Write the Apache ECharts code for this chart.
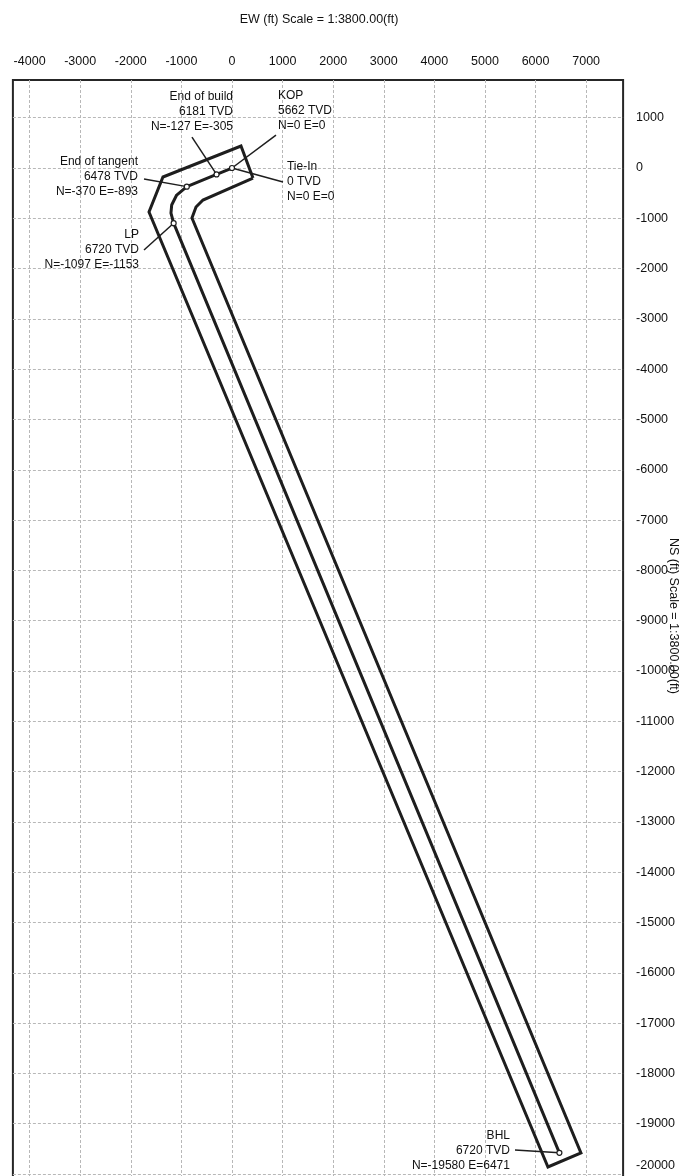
<!DOCTYPE html>
<html>
<head>
<meta charset="utf-8">
<script src="https://cdn.jsdelivr.net/npm/echarts@6/dist/echarts.min.js"></script>
<style>
html,body{margin:0;padding:0;background:#fff;}
#chart{width:681px;height:1176px;}
</style>
</head>
<body>
<div id="chart"></div>
<script>
// ---- tick labels ----
const xTicks = [-4000, -3000, -2000, -1000, 0, 1000, 2000, 3000, 4000, 5000, 6000, 7000];
const yTicks = [1000, 0, -1000, -2000, -3000, -4000, -5000, -6000, -7000, -8000, -9000, -10000,
  -11000, -12000, -13000, -14000, -15000, -16000, -17000, -18000, -19000, -20000];

// ---- well path (E, N in ft) ----
const pathE = [0, -305, -893, -1093, -1192, -1206, -1153, 6471];
const pathN = [0, -127, -370, -537, -736, -895, -1097, -19580];

// ---- drilling window / hard line polygon (E, N in ft) ----
const boundE = [415, 178, -1364, -1640, 6245, 6897, -791, -711, -573, 415];
const boundN = [-199, 437, -179, -875, -19861, -19583, -994, -775, -636, -199];

// ---- survey stations ----
const stationNames = ['KOP', 'Tie-In', 'End of build', 'End of tangent', 'LP', 'BHL'];
const stationTVD = [5662, 0, 6181, 6478, 6720, 6720];
const stationN = [0, 0, -127, -370, -1097, -19580];
const stationE = [0, 0, -305, -893, -1153, 6471];

// annotation layout (leader end point and label anchor, in ft), per station
const leaderEnd = [[870, 656], [1008, -278], [-791, 616], [-1739, -219], [-1739, -1630], [5593, -19523]];
const labelAnchor = [[909, 1581], [1087, 169], [20, 1561], [-1858, 268], [-1838, -1183], [5494, -19093]];
const labelAlign = ['left', 'left', 'right', 'right', 'right', 'right'];

const FONT = "'Liberation Sans', Arial, sans-serif";
const TXT = '#111111';

const chart = echarts.init(document.getElementById('chart'), null, {renderer: 'canvas'});

const pathData = pathE.map((e, i) => [e, pathN[i]]);
const boundData = boundE.map((e, i) => [e, boundN[i]]);
const markerIdx = [1, 2, 3, 4, 5];
const markerData = markerIdx.map(i => [stationE[i], stationN[i]]);
const leaderData = stationNames.map((n, i) => ({coords: [[stationE[i], stationN[i]], leaderEnd[i]]}));
const labelData = stationNames.map((n, i) => ({
  value: labelAnchor[i],
  label: {
    align: labelAlign[i],
    formatter: n + '\n' + stationTVD[i] + ' TVD\nN=' + stationN[i] + ' E=' + stationE[i]
  }
}));
const lastY = yTicks[yTicks.length - 1];

const option = {
  backgroundColor: '#ffffff',
  animation: false,
  title: {
    text: 'EW (ft) Scale = 1:3800.00(ft)',
    left: 314, top: 8, textAlign: 'center',
    textStyle: {fontFamily: FONT, fontSize: 12.5, fontWeight: 'normal', color: TXT}
  },
  graphic: [{
    type: 'text', x: 673, y: 616, rotation: -Math.PI / 2,
    style: {text: 'NS (ft) Scale = 1:3800.00(ft)', font: "12.5px 'Liberation Sans', Arial, sans-serif",
      fill: TXT, align: 'center', verticalAlign: 'middle'}
  }],
  grid: {
    left: 12.9, right: 57.9, top: 80, height: 1099,
    outerBoundsMode: 'none', containLabel: false,
    show: true, borderColor: '#262626', borderWidth: 2, backgroundColor: 'transparent'
  },
  xAxis: {
    type: 'value', position: 'top', min: -4330, max: 7730,
    axisLine: {show: false},
    axisTick: {show: false, customValues: xTicks},
    axisLabel: {customValues: xTicks, margin: 12, fontFamily: FONT, fontSize: 12.5, color: TXT,
      formatter: v => String(v)},
    splitLine: {show: true, lineStyle: {color: '#b8b8b8', width: 1, type: [3, 2]}}
  },
  yAxis: {
    type: 'value', position: 'right', min: -20100, max: 1750,
    axisLine: {show: false},
    axisTick: {show: false, customValues: yTicks},
    axisLabel: {customValues: yTicks, margin: 13, fontFamily: FONT, fontSize: 12.5, color: TXT, align: 'left',
      formatter: v => v === lastY ? '{lift|' + v + '}' : String(v),
      rich: {lift: {padding: [0, 0, 16, 0], fontFamily: FONT, fontSize: 12.5, color: TXT}}},
    splitLine: {show: true, lineStyle: {color: '#b8b8b8', width: 1, type: [3, 2]}}
  },
  series: [
    {
      type: 'line', data: boundData, showSymbol: false, symbol: 'none', z: 3,
      lineStyle: {color: '#1e1e1e', width: 3, join: 'miter'}
    },
    {
      type: 'line', data: pathData, showSymbol: false, symbol: 'none', z: 3,
      lineStyle: {color: '#1e1e1e', width: 3}
    },
    {
      type: 'lines', coordinateSystem: 'cartesian2d', data: leaderData, z: 4,
      lineStyle: {color: '#1e1e1e', width: 1.5, opacity: 1, curveness: 0}
    },
    {
      type: 'scatter', data: markerData, symbol: 'circle', symbolSize: 5, z: 5,
      itemStyle: {color: '#ffffff', borderColor: '#1e1e1e', borderWidth: 1.2, opacity: 1}
    },
    {
      type: 'scatter', data: labelData, symbolSize: 0, z: 6, silent: true,
      itemStyle: {opacity: 1},
      label: {show: true, position: [0, 0], verticalAlign: 'top', lineHeight: 15, opacity: 1,
        fontFamily: FONT, fontSize: 12, color: TXT}
    }
  ]
};
chart.setOption(option);
</script>
</body>
</html>
